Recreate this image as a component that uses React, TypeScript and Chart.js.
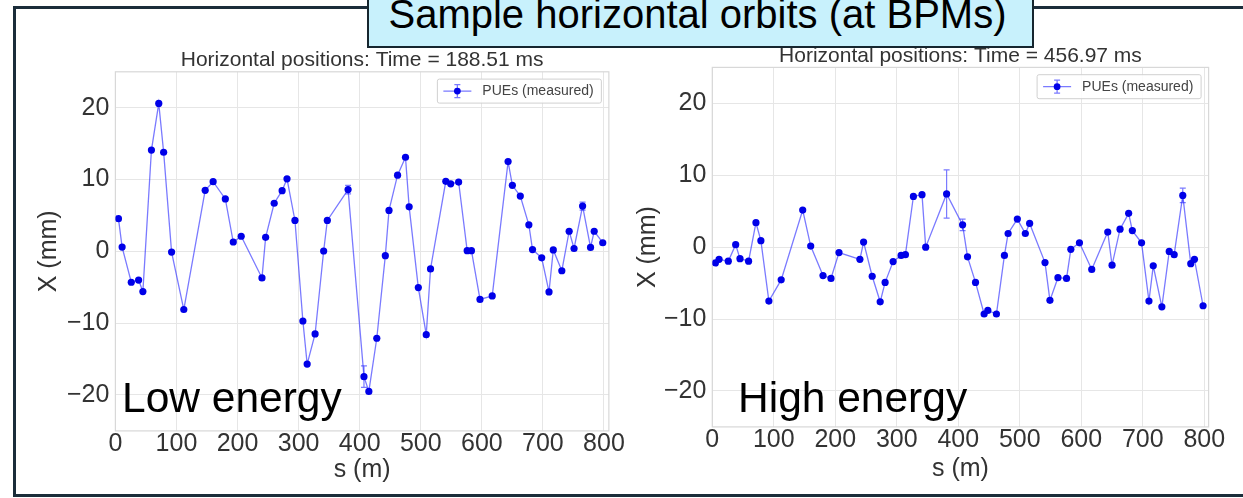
import React, { useEffect, useRef } from "react";
import { Chart, registerables } from "chart.js";

Chart.register(...registerables);

const FONT = '"Liberation Sans", Arial, Helvetica, sans-serif';
Chart.defaults.font.family = FONT;

// BPM positions along the ring (m)
const sPositions = [
  5, 11, 26, 38, 45, 59, 71, 79, 92, 112,
  147, 160, 180, 193, 206, 240, 246, 260, 273, 281,
  294, 307, 314, 327, 341, 347, 381, 407, 415, 428,
  442, 448, 462, 475, 481, 496, 509, 516, 541, 549,
  562, 576, 583, 597, 617, 643, 650, 663, 677, 683,
  698, 710, 717, 731, 743, 751, 765, 778, 784, 798,
];

// Low energy orbit (mm) at 188.51 ms
const lowEnergyX = [
  4.55, 0.6, -4.3, -4.0, -5.6, 14.1, 20.6, 13.8, -0.1, -8.1,
  8.5, 9.7, 7.3, 1.3, 2.1, -3.7, 1.95, 6.7, 8.45, 10.1,
  4.3, -9.7, -15.7, -11.5, 0.05, 4.3, 8.6, -17.45, -19.5, -12.1,
  -0.6, 5.7, 10.6, 13.1, 6.2, -5.05, -11.6, -2.45, 9.75, 9.4,
  9.65, 0.1, 0.1, -6.7, -6.2, 12.5, 9.2, 7.7, 3.7, 0.25,
  -0.9, -5.65, 0.2, -2.7, 2.8, 0.4, 6.3, 0.55, 2.8, 1.2,
];
const lowEnergyErr = [
  0, 0, 0, 0, 0, 0, 0, 0, 0, 0,
  0, 0, 0, 0, 0, 0, 0, 0, 0, 0,
  0, 0, 0, 0, 0, 0, 0.6, 1.5, 0, 0,
  0, 0, 0, 0, 0, 0, 0, 0, 0, 0,
  0, 0, 0, 0, 0, 0, 0, 0, 0, 0,
  0, 0, 0, 0, 0, 0, 0.55, 0, 0, 0,
];

// High energy orbit (mm) at 456.97 ms
const highEnergyX = [
  -2.2, -1.7, -1.95, 0.35, -1.6, -1.95, 3.4, 0.9, -7.5, -4.55,
  5.15, 0.15, -3.95, -4.35, -0.75, -1.7, 0.7, -4.05, -7.6, -4.9,
  -2.0, -1.15, -1.05, 7.05, 7.3, 0.0, 7.4, 3.1, -1.35, -4.9,
  -9.3, -8.8, -9.3, -1.15, 1.9, 3.9, 1.9, 3.3, -2.15, -7.4,
  -4.25, -4.35, -0.3, 0.6, -3.1, 2.1, -2.5, 2.5, 4.7, 2.3,
  0.6, -7.5, -2.6, -8.3, -0.6, -1.05, 7.2, -2.3, -1.7, -8.15,
];
const highEnergyErr = [
  0, 0, 0, 0, 0, 0, 0, 0, 0, 0,
  0, 0, 0, 0, 0, 0, 0, 0, 0, 0,
  0, 0, 0, 0, 0, 0, 3.35, 0.8, 0, 0,
  0, 0, 0, 0, 0, 0, 0, 0, 0, 0,
  0, 0, 0, 0, 0, 0, 0, 0, 0, 0,
  0, 0, 0, 0, 0, 0, 1.0, 0, 0, 0,
];

const xTickValues = [0, 100, 200, 300, 400, 500, 600, 700, 800];
const yTickValues = [-20, -10, 0, 10, 20];

const lowTitle = "Horizontal positions: Time = 188.51 ms";
const highTitle = "Horizontal positions: Time = 456.97 ms";
const legendLabel = "PUEs (measured)";
const xAxisTitle = "s (m)";
const yAxisTitle = "X (mm)";
const slideTitle = "Sample horizontal orbits (at BPMs)";
const lowLabel = "Low energy";
const highLabel = "High energy";

const LINE_COLOR = "rgba(40,40,255,0.62)";
const POINT_COLOR = "#0000e8";
const TEXT_COLOR = "#333333";
const GRID_COLOR = "#e6e6e6";

const frameBorder = {
  id: "frameBorder",
  beforeDatasetsDraw(chart: any) {
    const { ctx, chartArea: a } = chart;
    ctx.save();
    ctx.strokeStyle = "#d8d8d8";
    ctx.lineWidth = 1.2;
    ctx.strokeRect(a.left, a.top, a.right - a.left, a.bottom - a.top);
    ctx.restore();
  },
};

const errorBars = {
  id: "errorBars",
  beforeDatasetsDraw(chart: any, _args: any, opts: any) {
    const errs: number[] = opts.errors || [];
    const data = chart.data.datasets[0].data as { x: number; y: number }[];
    const xs = chart.scales.x;
    const ys = chart.scales.y;
    const ctx = chart.ctx;
    ctx.save();
    ctx.strokeStyle = LINE_COLOR;
    ctx.lineWidth = 1.2;
    data.forEach((p, i) => {
      const e = errs[i];
      if (!e) return;
      const px = xs.getPixelForValue(p.x);
      const y1 = ys.getPixelForValue(p.y - e);
      const y2 = ys.getPixelForValue(p.y + e);
      ctx.beginPath();
      ctx.moveTo(px, y1);
      ctx.lineTo(px, y2);
      ctx.moveTo(px - 3, y1);
      ctx.lineTo(px + 3, y1);
      ctx.moveTo(px - 3, y2);
      ctx.lineTo(px + 3, y2);
      ctx.stroke();
    });
    ctx.restore();
  },
};

const boxLegend = {
  id: "boxLegend",
  afterDraw(chart: any, _args: any, opts: any) {
    const { ctx, chartArea: a } = chart;
    const w = 164;
    const h = 24;
    const right = a.right - 7.5;
    const top = a.top + 7.3;
    const left = right - w;
    const cy = top + h / 2;
    ctx.save();
    ctx.fillStyle = "rgba(255,255,255,0.85)";
    ctx.strokeStyle = "#d0d0d0";
    ctx.lineWidth = 1;
    ctx.beginPath();
    (ctx as any).roundRect(left, top, w, h, 2);
    ctx.fill();
    ctx.stroke();
    ctx.strokeStyle = LINE_COLOR;
    ctx.lineWidth = 1.3;
    ctx.beginPath();
    ctx.moveTo(left + 6, cy);
    ctx.lineTo(left + 34, cy);
    ctx.moveTo(left + 20, cy - 6.5);
    ctx.lineTo(left + 20, cy + 6.5);
    ctx.moveTo(left + 17, cy - 6.5);
    ctx.lineTo(left + 23, cy - 6.5);
    ctx.moveTo(left + 17, cy + 6.5);
    ctx.lineTo(left + 23, cy + 6.5);
    ctx.stroke();
    ctx.fillStyle = POINT_COLOR;
    ctx.beginPath();
    ctx.arc(left + 20, cy, 3.4, 0, Math.PI * 2);
    ctx.fill();
    ctx.fillStyle = "#444444";
    ctx.font = `14px ${FONT}`;
    ctx.textBaseline = "middle";
    ctx.textAlign = "left";
    ctx.fillText(opts.label, left + 45, cy + 0.5);
    ctx.restore();
  },
};

type PanelCfg = {
  left: number;
  top: number;
  width: number;
  height: number;
  yAxisWidth: number;
  xAxisHeight: number;
  padRight: number;
  titlePadTop: number;
  titlePadBottom: number;
  yTitlePad: number;
  xTitlePad: number;
  xMax: number;
  title: string;
  values: number[];
  errors: number[];
};

function Panel({ cfg }: { cfg: PanelCfg }) {
  const ref = useRef<HTMLCanvasElement | null>(null);
  useEffect(() => {
    if (!ref.current) return;
    const chart = new Chart(ref.current, {
      type: "line",
      data: {
        datasets: [
          {
            label: legendLabel,
            data: sPositions.map((x, i) => ({ x, y: cfg.values[i] })),
            borderColor: LINE_COLOR,
            borderWidth: 1.3,
            pointRadius: 3.6,
            pointBackgroundColor: POINT_COLOR,
            pointBorderColor: POINT_COLOR,
            pointBorderWidth: 0,
            tension: 0,
            fill: false,
          },
        ],
      },
      plugins: [frameBorder, errorBars, boxLegend],
      options: {
        animation: false,
        responsive: false,
        maintainAspectRatio: false,
        devicePixelRatio: 1,
        layout: { padding: { left: 0, top: 0, right: cfg.padRight, bottom: 0 } },
        scales: {
          x: {
            type: "linear",
            min: 0,
            max: cfg.xMax,
            afterBuildTicks: (s: any) => {
              s.ticks = xTickValues.map((v) => ({ value: v }));
            },
            afterFit: (s: any) => {
              s.height = cfg.xAxisHeight;
            },
            ticks: {
              font: { size: 25, lineHeight: 1 },
              color: TEXT_COLOR,
              padding: 1,
              maxRotation: 0,
              autoSkip: false,
              callback: (v: any) => String(v),
            },
            grid: { color: GRID_COLOR, drawTicks: false, lineWidth: 1 },
            border: { display: false },
            title: {
              display: true,
              text: xAxisTitle,
              color: TEXT_COLOR,
              font: { size: 25 },
              padding: { top: 0, bottom: cfg.xTitlePad },
            },
          },
          y: {
            type: "linear",
            min: -25,
            max: 25,
            afterBuildTicks: (s: any) => {
              s.ticks = yTickValues.map((v) => ({ value: v }));
            },
            afterFit: (s: any) => {
              s.width = cfg.yAxisWidth;
            },
            ticks: {
              font: { size: 25, lineHeight: 1 },
              color: TEXT_COLOR,
              padding: 6,
              autoSkip: false,
              callback: (v: any) => (Number(v) < 0 ? "\u2212" + Math.abs(Number(v)) : String(v)),
            },
            grid: { color: GRID_COLOR, drawTicks: false, lineWidth: 1 },
            border: { display: false },
            title: {
              display: true,
              text: yAxisTitle,
              color: TEXT_COLOR,
              font: { size: 25 },
              padding: { top: cfg.yTitlePad, bottom: 0 },
            },
          },
        },
        plugins: {
          legend: { display: false },
          tooltip: { enabled: false },
          title: {
            display: true,
            text: cfg.title,
            color: TEXT_COLOR,
            fullSize: false,
            font: { size: 21, weight: "normal", lineHeight: 1 },
            padding: { top: cfg.titlePadTop, bottom: cfg.titlePadBottom },
          },
          errorBars: { errors: cfg.errors },
          boxLegend: { label: legendLabel },
        } as any,
      },
    } as any);
    return () => chart.destroy();
  }, [cfg]);
  return (
    <canvas
      ref={ref}
      width={cfg.width}
      height={cfg.height}
      style={{ position: "absolute", left: cfg.left, top: cfg.top, width: cfg.width, height: cfg.height }}
    />
  );
}

const leftCfg: PanelCfg = {
  left: 14,
  top: 38,
  width: 612,
  height: 452,
  yAxisWidth: 101.4,
  xAxisHeight: 59.1,
  padRight: 15.4,
  titlePadTop: 11.5,
  titlePadBottom: 1.3,
  yTitlePad: 20,
  xTitlePad: 5,
  xMax: 808,
  title: lowTitle,
  values: lowEnergyX,
  errors: lowEnergyErr,
};

const rightCfg: PanelCfg = {
  left: 628,
  top: 34,
  width: 615,
  height: 456,
  yAxisWidth: 84.3,
  xAxisHeight: 63.1,
  padRight: 34.4,
  titlePadTop: 11.5,
  titlePadBottom: 0.9,
  yTitlePad: 5,
  xTitlePad: 5.5,
  xMax: 807,
  title: highTitle,
  values: highEnergyX,
  errors: highEnergyErr,
};

export default function App() {
  return (
    <div
      style={{
        position: "fixed",
        left: 0,
        top: 0,
        width: 1243,
        height: 498,
        overflow: "hidden",
        background: "#ffffff",
        fontFamily: FONT,
      }}
    >
      <div
        style={{
          position: "absolute",
          left: 13,
          top: 6,
          width: 1250,
          height: 491,
          border: "3px solid #1b2d3a",
          boxSizing: "border-box",
        }}
      />
      <Panel cfg={leftCfg} />
      <Panel cfg={rightCfg} />
      <div
        style={{
          position: "absolute",
          left: 122,
          top: 377,
          fontSize: 42.5,
          lineHeight: "42px",
          color: "#000",
          whiteSpace: "nowrap",
        }}
      >
        {lowLabel}
      </div>
      <div
        style={{
          position: "absolute",
          left: 738,
          top: 377,
          fontSize: 42.5,
          lineHeight: "42px",
          color: "#000",
          whiteSpace: "nowrap",
        }}
      >
        {highLabel}
      </div>
      <div
        style={{
          position: "absolute",
          left: 367,
          top: -4,
          width: 667,
          height: 51.7,
          background: "#c8f1fc",
          border: "2.5px solid #16262f",
          boxSizing: "border-box",
          overflow: "hidden",
        }}
      >
        <div
          style={{
            position: "absolute",
            left: -5,
            top: -4,
            width: 667,
            textAlign: "center",
            fontSize: 40,
            lineHeight: "40px",
            color: "#000",
            whiteSpace: "nowrap",
          }}
        >
          {slideTitle}
        </div>
      </div>
    </div>
  );
}
